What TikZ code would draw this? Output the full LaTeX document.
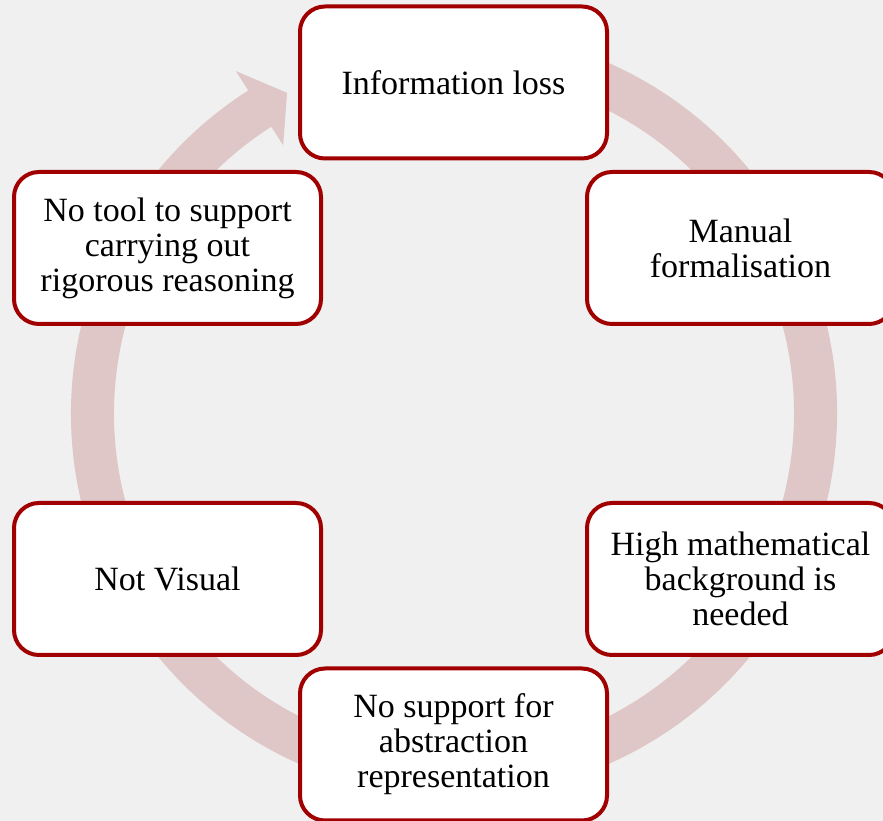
\documentclass[tikz,border=0pt]{standalone}
\usepackage{fontspec}
\setmainfont{Liberation Serif}
\definecolor{bg}{HTML}{F0F0F0}
\definecolor{ringc}{HTML}{DFC7C8}
\definecolor{boxred}{HTML}{A00000}
\begin{document}
\begin{tikzpicture}[x=1pt,y=1pt,
  stepbox/.style={draw=boxred, line width=4pt, fill=white, rounded corners=25pt,
    minimum width=307pt, minimum height=152pt, align=center, inner sep=0pt,
    font=\fontsize{34}{35}\selectfont}]
\useasboundingbox (0,0) rectangle (883,821);
\fill[bg] (0,0) rectangle (883,821);
\clip (0,0) rectangle (883,821);
\begin{scope}[shift={(454,407.5)}]
\fill[ringc] (80:383pt) arc[start angle=80,end angle=-237.5,radius=383pt]
  -- (122.5:406pt) -- (117.5:361.5pt) -- (122.5:318pt) -- (-237.5:340pt)
  arc[start angle=-237.5,end angle=80,radius=340pt] -- cycle;
\end{scope}
\node[stepbox] (info) at (453.5,738.5) {Information loss};
\node[stepbox] (manual) at (740.5,573) {Manual\\formalisation};
\node[stepbox] (high) at (740.5,242) {High mathematical\\background is\\needed};
\node[stepbox] (abstr) at (453.5,76.5) {No support for\\abstraction\\representation};
\node[stepbox] (visual) at (167.5,242) {Not Visual};
\node[stepbox] (tool) at (167.5,573) {No tool to support\\carrying out\\rigorous reasoning};
\end{tikzpicture}
\end{document}
